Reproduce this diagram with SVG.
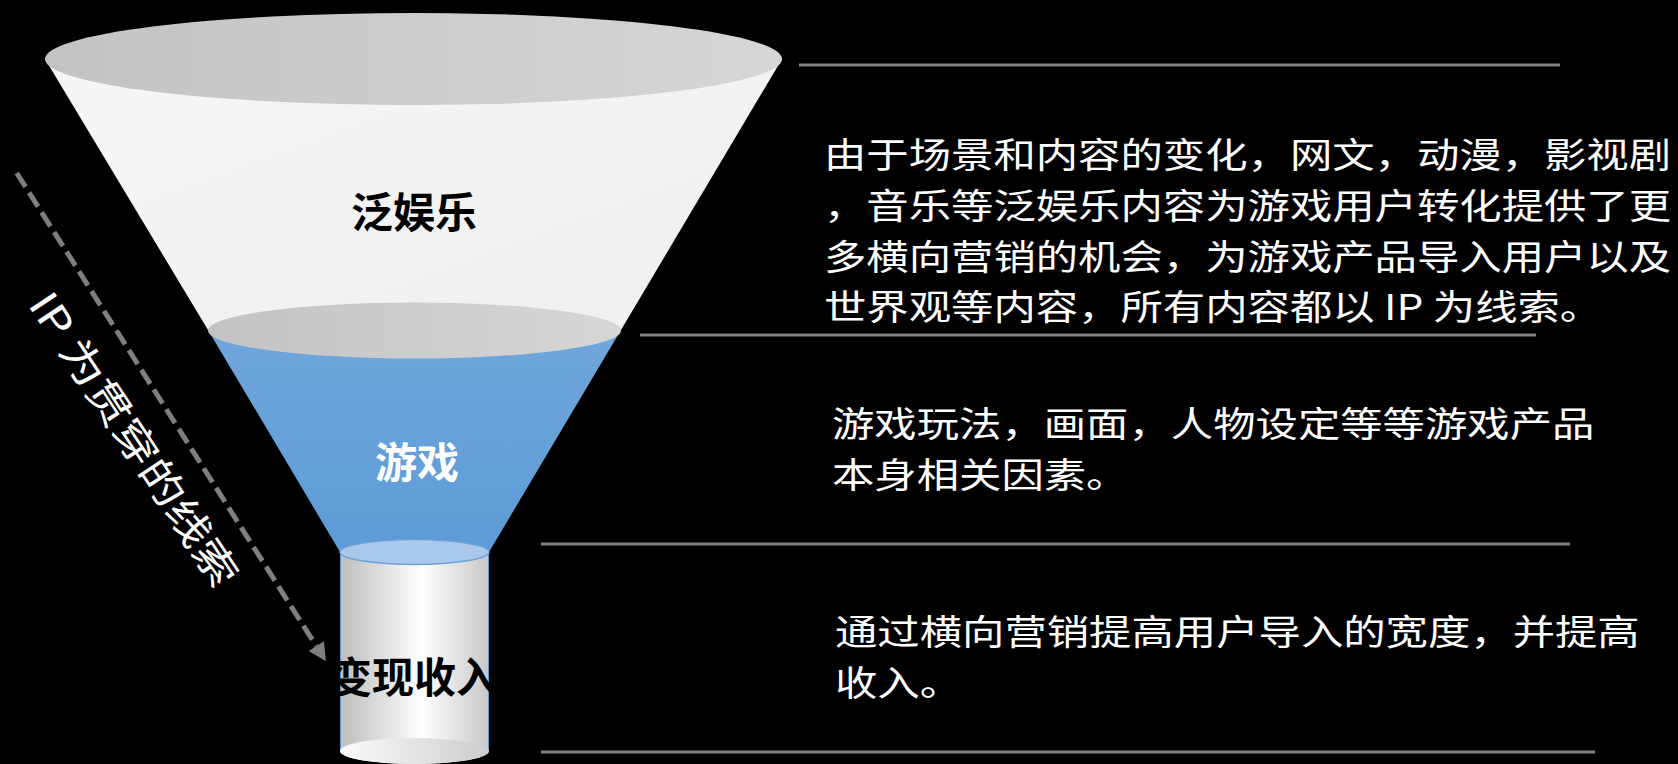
<svg xmlns="http://www.w3.org/2000/svg" width="1678" height="764" viewBox="0 0 1678 764">
  <style>
    .label { font-family: 'Noto Sans CJK SC', 'Noto Sans', sans-serif; font-weight: 700; font-size: 42px; text-anchor: middle; dominant-baseline: central; }
    .para { font-family: 'Noto Sans CJK SC', 'Noto Sans', sans-serif; font-size: 35.3px; fill: #ffffff; dominant-baseline: central; }
    .divider { stroke: #7f7f7f; stroke-width: 3; fill: none; }
    .flow { stroke: #7f7f7f; stroke-width: 5; stroke-dasharray: 16.5 6.8; fill: none; }
  </style>
  <defs>
    <linearGradient id="gTop" x1="0" y1="0" x2="1" y2="0">
      <stop offset="0" stop-color="#c3c3c3"/>
      <stop offset="1" stop-color="#d6d6d6"/>
    </linearGradient>
    <linearGradient id="gWhite" x1="0" y1="0" x2="1" y2="1">
      <stop offset="0" stop-color="#f6f6f6"/>
      <stop offset="1" stop-color="#efefef"/>
    </linearGradient>
    <linearGradient id="gBlue" x1="0" y1="0" x2="0" y2="1">
      <stop offset="0" stop-color="#70a6db"/>
      <stop offset="1" stop-color="#5c9bd6"/>
    </linearGradient>
    <linearGradient id="gCyl" x1="0" y1="0" x2="1" y2="0">
      <stop offset="0" stop-color="#bdbdbd"/>
      <stop offset="0.55" stop-color="#ffffff"/>
      <stop offset="1" stop-color="#c8c8c8"/>
    </linearGradient>
    <linearGradient id="gBottom" x1="0" y1="0" x2="1" y2="0">
      <stop offset="0" stop-color="#fbfbfb"/>
      <stop offset="1" stop-color="#cdcdcd"/>
    </linearGradient>
    <clipPath id="cylClip">
      <rect x="340" y="552" width="149" height="212"/>
    </clipPath>
    <marker id="arrowHead" viewBox="0 0 10 10" refX="0" refY="5" markerWidth="4" markerHeight="3.6" markerUnits="strokeWidth" orient="auto">
      <path d="M0,0 L10,5 L0,10 Z" fill="#7f7f7f"/>
    </marker>
  </defs>

  <rect x="0" y="0" width="1678" height="764" fill="#000000"/>

  <g id="layer-entertainment">
    <path d="M45,59 L782,59 L621,330 L208,330 Z" fill="url(#gWhite)"/>
    <ellipse cx="413.5" cy="59" rx="368.5" ry="46" fill="url(#gTop)"/>
    <text class="label" x="414" y="209" fill="#000000">泛娱乐</text>
  </g>

  <g id="layer-game">
    <path d="M208,330 L621,330 L489,552 L340,552 Z" fill="url(#gBlue)"/>
    <ellipse cx="414.5" cy="330.5" rx="206.5" ry="28" fill="url(#gTop)"/>
    <text class="label" x="417" y="459" fill="#ffffff">游戏</text>
  </g>

  <g id="layer-revenue">
    <path d="M340,552 L340,751 A74.5,13 0 0 0 489,751 L489,552 Z" fill="url(#gCyl)"/>
    <line x1="340.5" y1="552" x2="340.5" y2="751" stroke="#5b9bd5" stroke-width="1"/>
    <line x1="488.5" y1="552" x2="488.5" y2="751" stroke="#5b9bd5" stroke-width="1"/>
    <ellipse cx="414.5" cy="751" rx="74.5" ry="13" fill="url(#gBottom)"/>
    <ellipse cx="414.5" cy="552" rx="74.5" ry="12.5" fill="#a9c8ec" stroke="#6aa1d8" stroke-width="1.5"/>
    <g clip-path="url(#cylClip)">
      <text class="label" x="414" y="674" fill="#000000">变现收入</text>
    </g>
  </g>

  <g id="connectors">
    <line class="flow" x1="16.7" y1="173" x2="316.3" y2="646.1" marker-end="url(#arrowHead)"/>
  </g>

  <g id="ip-label">
    <text class="para" transform="translate(41.5,295) rotate(56.5) scale(1.2,1)" x="0" y="0" style="font-size:40px">IP 为贯穿的线索</text>
  </g>

  <g id="dividers">
    <line class="divider" x1="799" y1="65" x2="1560" y2="65"/>
    <line class="divider" x1="640" y1="335" x2="1536" y2="335"/>
    <line class="divider" x1="541" y1="544" x2="1570" y2="544"/>
    <line class="divider" x1="541" y1="752" x2="1595" y2="752"/>
  </g>

  <g id="desc-entertainment">
    <text class="para" transform="translate(824,0) scale(1.2,1)" x="0" y="153">由于场景和内容的变化，网文，动漫，影视剧</text>
    <text class="para" transform="translate(824,0) scale(1.2,1)" x="0" y="204">，音乐等泛娱乐内容为游戏用户转化提供了更</text>
    <text class="para" transform="translate(824,0) scale(1.2,1)" x="0" y="254.5">多横向营销的机会，为游戏产品导入用户以及</text>
    <text class="para" transform="translate(824,0) scale(1.2,1)" x="0" y="305">世界观等内容，所有内容都以 IP 为线索。</text>
  </g>

  <g id="desc-game">
    <text class="para" transform="translate(832,0) scale(1.2,1)" x="0" y="422">游戏玩法，画面，人物设定等等游戏产品</text>
    <text class="para" transform="translate(832,0) scale(1.2,1)" x="0" y="473">本身相关因素。</text>
  </g>

  <g id="desc-revenue">
    <text class="para" transform="translate(835,0) scale(1.2,1)" x="0" y="630">通过横向营销提高用户导入的宽度，并提高</text>
    <text class="para" transform="translate(835,0) scale(1.2,1)" x="0" y="680.5">收入。</text>
  </g>
</svg>
